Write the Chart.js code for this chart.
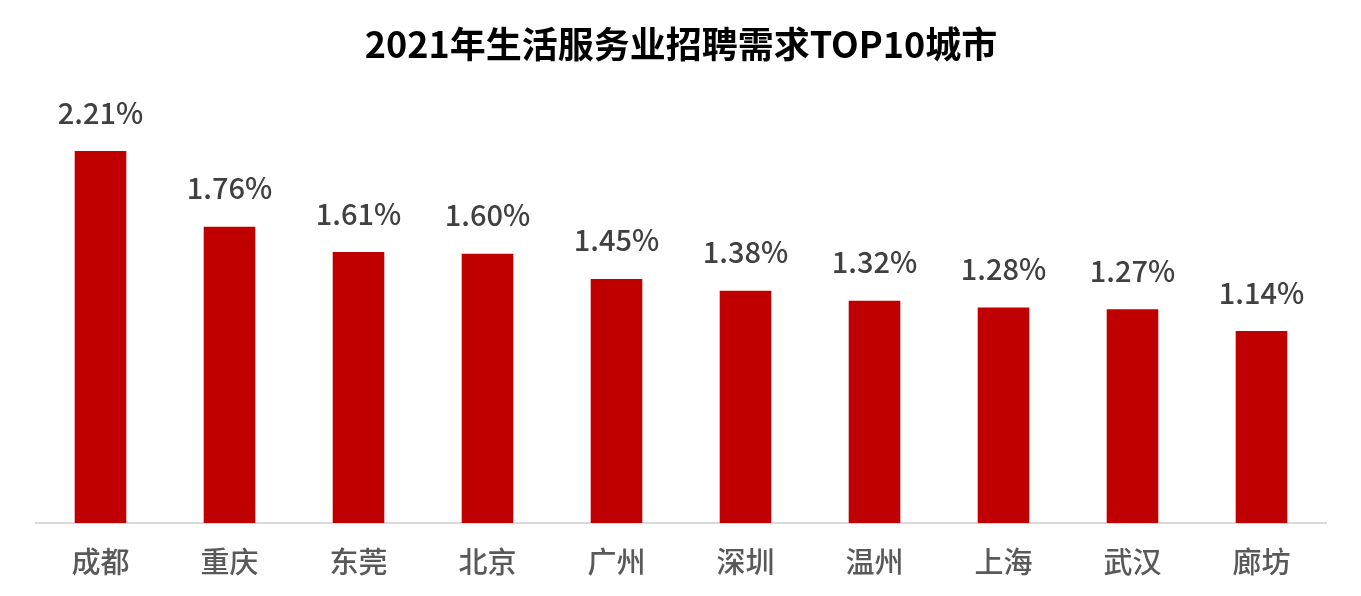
<!DOCTYPE html>
<html>
<head>
<meta charset="utf-8">
<script src="https://cdn.jsdelivr.net/npm/chart.js@4/dist/chart.umd.min.js"></script>
<style>
  html, body { margin: 0; padding: 0; background: #fff; }
  #wrap { width: 1361px; height: 596px; }
</style>
</head>
<body>
<div id="wrap"><canvas id="chart"></canvas></div>
<script>
'use strict';
// 城市与招聘需求占比（%）
const cities = ['成都', '重庆', '东莞', '北京', '广州', '深圳', '温州', '上海', '武汉', '廊坊'];
const shares = [2.21, 1.76, 1.61, 1.60, 1.45, 1.38, 1.32, 1.28, 1.27, 1.14];
const FONT = '"Noto Sans CJK SC", "Noto Sans", sans-serif';

// 柱顶数值标签
const valueLabels = {
    id: 'valueLabels',
    afterDatasetsDraw(chart) {
        const ctx = chart.ctx;
        const meta = chart.getDatasetMeta(0);
        ctx.save();
        ctx.font = '500 29px ' + FONT;
        ctx.fillStyle = '#404040';
        ctx.textAlign = 'center';
        ctx.textBaseline = 'bottom';
        meta.data.forEach((bar, i) => {
            ctx.fillText(shares[i].toFixed(2) + '%', bar.x, bar.y - 24);
        });
        ctx.restore();
    }
};

const ctx = document.getElementById('chart').getContext('2d');
new Chart(ctx, {
    type: 'bar',
    data: {
        labels: cities,
        datasets: [{
            data: shares,
            backgroundColor: '#C00000',
            barPercentage: 0.8,
            categoryPercentage: 0.5
        }]
    },
    options: {
        responsive: true,
        maintainAspectRatio: false,
        animation: false,
        layout: { padding: { left: 36, right: 35, top: 0, bottom: 0 } },
        plugins: {
            legend: { display: false },
            tooltip: { enabled: false },
            title: {
                display: true,
                text: '2021年生活服务业招聘需求TOP10城市',
                color: '#000',
                font: { family: FONT, size: 36, weight: 'bold' },
                padding: { top: 23, bottom: 36 }
            }
        },
        scales: {
            x: {
                grid: { display: false, drawTicks: false },
                border: { color: '#D9D9D9', width: 2 },
                ticks: { color: '#595959', font: { family: FONT, size: 29, weight: '500' }, padding: 22 },
                afterFit(scale) { scale.height = 73; }
            },
            y: {
                display: false,
                min: 0,
                max: 2.5
            }
        }
    },
    plugins: [valueLabels]
});
</script>
</body>
</html>
